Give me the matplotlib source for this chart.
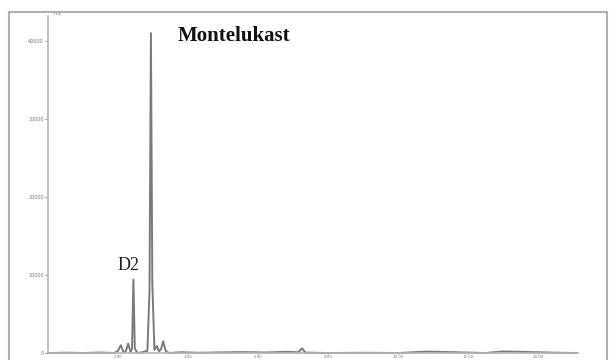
import matplotlib.pyplot as plt
from matplotlib.patches import Rectangle

# chromatogram trace: retention time (min) and detector response
time_min = [0.0, 0.5, 1.0, 1.5, 1.9, 2.0, 2.08, 2.16, 2.22, 2.29, 2.36, 2.40, 2.44,
            2.48, 2.55, 2.70, 2.84, 2.90, 2.94, 2.98, 3.04, 3.11, 3.17, 3.23, 3.29,
            3.36, 3.45, 3.8, 4.3, 5.0, 5.6, 6.2, 6.8, 7.15, 7.26, 7.35, 8.0, 9.0,
            10.0, 10.8, 11.6, 12.5, 13.0, 13.8, 14.5, 15.1]
signal = [0, 40, 0, 60, 0, 300, 1000, 100, 200, 1200, 100, 600, 9400,
          600, 0, 100, 300, 8000, 41000, 9000, 400, 900, 200, 500, 1500,
          300, 0, 100, 30, 80, 120, 60, 150, 100, 600, 50, 0, 30,
          0, 180, 100, 0, 200, 120, 40, 0]

x_ticks = [2, 4, 6, 8, 10, 12, 14]
y_ticks = [0, 10000, 20000, 30000, 40000]

fig = plt.figure(figsize=(6.1, 3.6), dpi=100)
fig.patches.append(Rectangle((9 / 610, -0.01), 598 / 610, 1 - 12 / 360 + 0.01,
                             transform=fig.transFigure, fill=False,
                             edgecolor="#b0b0b0", linewidth=1.5))

ax = fig.add_axes([48 / 610, 7 / 360, 530 / 610, 337 / 360])
ax.plot(time_min, signal, color="#7a7a7a", linewidth=1.4, clip_on=False)

ax.set_xlim(0, 15.14)
ax.set_ylim(0, 43200)
ax.set_xticks(x_ticks)
ax.set_yticks(y_ticks)
ax.set_xticklabels([f"{t:.2f}" for t in x_ticks])
ax.set_yticklabels([f"{v:d}" for v in y_ticks])
ax.tick_params(axis="both", labelsize=3.5, colors="#777777", length=2, width=0.6, pad=1)
ax.tick_params(axis="x", labelsize=2.8, length=1, pad=0.3)
for side in ["top", "right"]:
    ax.spines[side].set_visible(False)
for side in ["left", "bottom"]:
    ax.spines[side].set_color("#b5b5b5")
    ax.spines[side].set_linewidth(1.2)
ax.patch.set_alpha(0)

ax.text(0.15, 43200, "mV", fontsize=3.5, color="#777777", va="bottom", ha="left")
ax.text(3.69, 40700, "Montelukast", fontsize=15, fontweight="bold",
        family="Liberation Serif", va="center", ha="left", color="#111111")
ax.text(2.29, 11200, "D2", fontsize=13, family="Liberation Serif",
        va="center", ha="center", color="#222222")

fig.savefig("out.png", dpi=100)
